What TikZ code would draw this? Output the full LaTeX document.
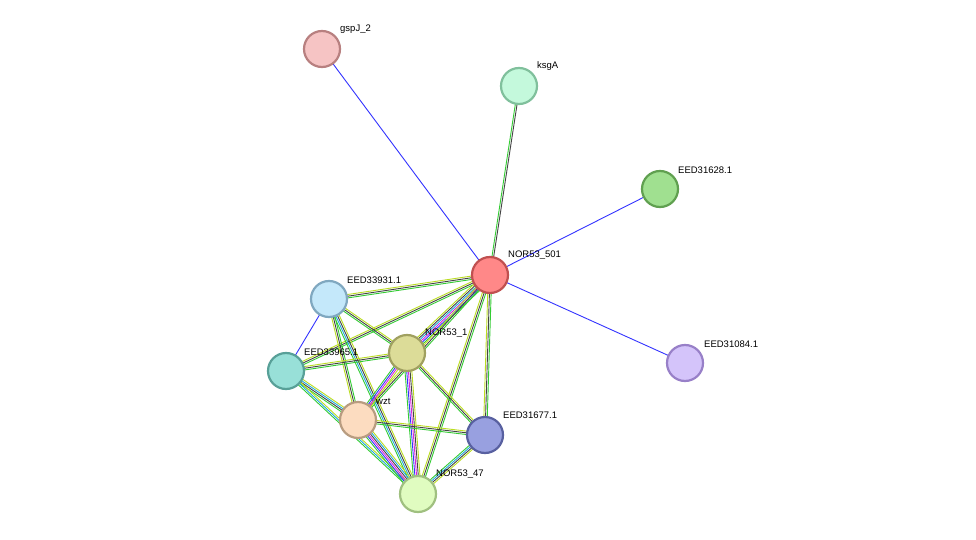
\documentclass[tikz,border=0pt]{standalone}
\usepackage{fontspec}
\setmainfont{Liberation Sans}
\usetikzlibrary{calc,backgrounds}

\definecolor{edgegreen}{HTML}{33CC33}
\definecolor{edgeblue}{HTML}{3333FF}
\definecolor{edgemag}{HTML}{DD22DD}
\definecolor{edgecyan}{HTML}{22AADD}
\definecolor{edgeyel}{HTML}{BBDD22}
\definecolor{edgeblk}{HTML}{444444}

\tikzset{
  prot/.style 2 args={circle,minimum size=36pt,inner sep=0pt,line width=2.2pt,
    fill={[HTML]#1},draw={[HTML]#2}},
  lab/.style={font=\fontsize{9.5}{11}\selectfont,anchor=south west,inner sep=0pt}
}
\tikzset{
  prot/.style 2 args={circle,minimum size=36pt,inner sep=0pt,line width=2.2pt,
    /utils/exec={\definecolor{pfill}{HTML}{#1}\definecolor{pdraw}{HTML}{#2}},
    fill=pfill,draw=pdraw}
}
% parallel coloured lines between two proteins
\newcommand\bundle[4]{%
  \foreach \c [count=\i] in {#4}{%
    \draw[\c,line width=0.9pt]
      ($(#1)!{(\i-(#3+1)/2)*1.7pt}!90:(#2)$) -- ($(#2)!{(\i-(#3+1)/2)*1.7pt}!-90:(#1)$);}}

\begin{document}
\begin{tikzpicture}[x=1pt,y=-1pt]
  \useasboundingbox (0,0) rectangle (976,540);
  \node[prot={F6C4C4}{B88080}] (gspJ) at (322,49) {};
  \node[prot={C4F9DC}{80C09C}] (ksgA) at (519,86) {};
  \node[prot={A0E090}{60A050}] (e31628) at (660,189) {};
  \node[prot={FF8888}{C05050}] (n501) at (490,275) {};
  \node[prot={D4C4FA}{9880C8}] (e31084) at (685,363) {};
  \node[prot={C4E8FA}{80A8C0}] (e33931) at (329,299) {};
  \node[prot={DCDC98}{A0A060}] (n1) at (407,353) {};
  \node[prot={98E0D8}{58A098}] (e33965) at (286,371) {};
  \node[prot={FCDCC0}{B89C80}] (wzt) at (358,420) {};
  \node[prot={98A0E0}{5860A0}] (e31677) at (485,435) {};
  \node[prot={E0FCC0}{A0C080}] (n47) at (418,494) {};

  \node[lab] at (340,34) {gspJ\_2};
  \node[lab] at (537,71) {ksgA};
  \node[lab] at (678,174) {EED31628.1};
  \node[lab] at (508,260) {NOR53\_501};
  \node[lab] at (704,348) {EED31084.1};
  \node[lab] at (347,284) {EED33931.1};
  \node[lab] at (425,338) {NOR53\_1};
  \node[lab] at (304,356) {EED33965.1};
  \node[lab] at (376,405) {wzt};
  \node[lab] at (503,419) {EED31677.1};
  \node[lab] at (436,479) {NOR53\_47};

  \begin{scope}[on background layer]
    \fill[white] (0,0) rectangle (976,540);
    \bundle{gspJ}{n501}{1}{edgeblue}
    \bundle{ksgA}{n501}{2}{edgegreen,edgeblk}
    \bundle{e31628}{n501}{1}{edgeblue}
    \bundle{e31084}{n501}{1}{edgeblue}
    \bundle{e33931}{e33965}{1}{edgeblue}
    \bundle{e33931}{n501}{3}{edgegreen,edgeblk,edgeyel}
    \bundle{e33965}{n501}{3}{edgegreen,edgeblk,edgeyel}
    \bundle{n1}{n501}{6}{edgegreen,edgeblue,edgemag,edgecyan,edgeblk,edgeyel}
    \bundle{wzt}{n501}{3}{edgegreen,edgeblk,edgeyel}
    \bundle{e31677}{n501}{3}{edgegreen,edgeblk,edgeyel}
    \bundle{n47}{n501}{3}{edgegreen,edgeblk,edgeyel}
    \bundle{e33931}{n1}{3}{edgegreen,edgeblk,edgeyel}
    \bundle{e33931}{wzt}{3}{edgeyel,edgeblk,edgegreen}
    \bundle{e33931}{n47}{4}{edgegreen,edgecyan,edgeblk,edgeyel}
    \bundle{e33965}{n1}{3}{edgegreen,edgeblk,edgeyel}
    \bundle{e33965}{wzt}{4}{edgegreen,edgeblk,edgecyan,edgeyel}
    \bundle{e33965}{n47}{3}{edgegreen,edgecyan,edgeyel}
    \bundle{n1}{wzt}{4}{edgegreen,edgeblue,edgemag,edgeyel}
    \bundle{n1}{n47}{5}{edgegreen,edgeblue,edgemag,edgeblk,edgeyel}
    \bundle{n1}{e31677}{3}{edgegreen,edgeblk,edgeyel}
    \bundle{wzt}{n47}{6}{edgegreen,edgeblue,edgemag,edgeblk,edgecyan,edgeyel}
    \bundle{wzt}{e31677}{3}{edgegreen,edgeblk,edgeyel}
    \bundle{e31677}{n47}{4}{edgegreen,edgecyan,edgeblk,edgeyel}
  \end{scope}
\end{tikzpicture}
\end{document}
